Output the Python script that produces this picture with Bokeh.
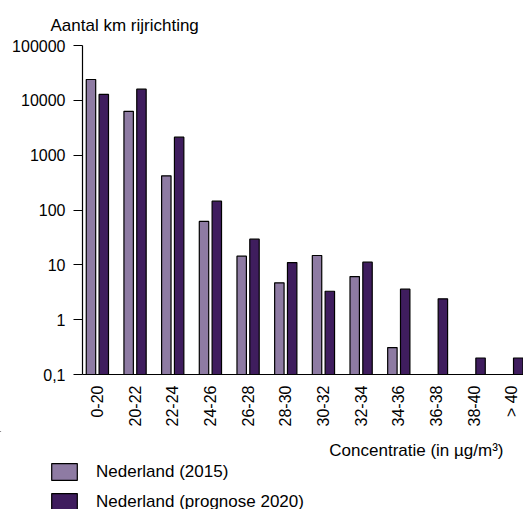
import numpy as np
from bokeh.plotting import figure
from bokeh.layouts import column
from bokeh.models import (FixedTicker, Range1d, Legend, LegendItem, Title,
                          Label, ColumnDataSource)
from bokeh.embed import file_html
from bokeh.resources import INLINE

categories = ["0-20", "20-22", "22-24", "24-26", "26-28", "28-30",
              "30-32", "32-34", "34-36", "36-38", "38-40", "> 40"]
nl_2015 = [24000, 6300, 420, 62, 14.4, 4.7, 14.8, 6.1, 0.31, 0.1, 0.1, 0.1]
nl_2020 = [12800, 16000, 2130, 145, 29.4, 11.0, 3.3, 11.2, 3.6, 2.4, 0.2, 0.2]
y_ticks = [0.1, 1, 10, 100, 1000, 10000, 100000]
y_tick_labels = ["0,1", "1", "10", "100", "1000", "10000", "100000"]
series_names = ["Nederland (2015)", "Nederland (prognose 2020)"]
colors = ["#8E7BA3", "#3F1D5E"]
y_title = "Aantal km rijrichting"
x_title = "Concentratie (in µg/m³)"

FONT = "Liberation Sans"
idx = np.arange(len(categories))
src = ColumnDataSource(dict(x1=idx - 0.17, x2=idx + 0.17,
                            a=nl_2015, b=nl_2020,
                            base=[y_ticks[0]] * len(categories)))

p = figure(width=523, height=431, output_backend="svg", toolbar_location=None,
           y_axis_type="log",
           x_range=Range1d(-0.395, 11.31),
           y_range=Range1d(y_ticks[0], y_ticks[-1]),
           min_border_left=82, min_border_right=0, min_border_top=45,
           min_border_bottom=57)
p.frame_align = False
p.outline_line_color = None
p.xgrid.grid_line_color = None
p.ygrid.grid_line_color = None
p.background_fill_color = None
p.border_fill_color = "white"

r1 = p.vbar(x="x1", top="a", bottom="base", width=0.25, source=src,
            fill_color=colors[0], line_color="black", line_width=1.2)
r2 = p.vbar(x="x2", top="b", bottom="base", width=0.25, source=src,
            fill_color=colors[1], line_color="black", line_width=1.2)

# y axis
ya = p.yaxis[0]
ya.ticker = FixedTicker(ticks=y_ticks, minor_ticks=[])
ya.major_label_overrides = {t: l for t, l in zip(y_ticks, y_tick_labels)}
ya.major_tick_out = 9
ya.major_tick_in = 0
ya.minor_tick_out = 0
ya.minor_tick_in = 0
ya.major_label_standoff = 8
ya.major_label_text_font = FONT
ya.major_label_text_font_size = "16px"
ya.major_label_text_color = "black"
ya.axis_line_color = "black"
ya.axis_line_width = 1.2
ya.major_tick_line_color = "black"

# x axis
xa = p.xaxis[0]
xa.ticker = FixedTicker(ticks=list(idx), minor_ticks=[])
xa.major_label_overrides = {int(i): c for i, c in zip(idx, categories)}
xa.major_label_orientation = np.pi / 2
xa.major_tick_out = 0
xa.major_tick_in = 0
xa.minor_tick_out = 0
xa.minor_tick_in = 0
xa.major_label_standoff = 11
xa.major_label_text_font = FONT
xa.major_label_text_font_size = "16px"
xa.major_label_text_color = "black"
xa.axis_line_color = "black"
xa.axis_line_width = 1.2

# y title above the plot
t_top = Title(text=y_title, align="left", offset=-32,
              text_font=FONT, text_font_size="17px", text_font_style="normal",
              text_color="black", standoff=21)
p.add_layout(t_top, "above")

# strip below the chart: x title and legend (pixel-like ranges, y downwards)
lg = figure(width=523, height=78, output_backend="svg", toolbar_location=None,
            x_axis_location=None, y_axis_location=None,
            x_range=Range1d(0, 523), y_range=Range1d(78, 0),
            min_border_left=0, min_border_right=0, min_border_top=0,
            min_border_bottom=0)
lg.frame_align = False
lg.outline_line_color = None
lg.xgrid.grid_line_color = None
lg.ygrid.grid_line_color = None

lg.add_layout(Label(x=503, y=19, text=x_title, text_align="right",
                    text_baseline="middle", text_font=FONT,
                    text_font_size="17px", text_color="black"))

hidden = ColumnDataSource(dict(x=[-10000.0], top=[-10000.0],
                               bottom=[-10001.0]))
l1 = lg.vbar(x="x", top="top", bottom="bottom", width=1, source=hidden,
             fill_color=colors[0], line_color="black", line_width=1.2)
l2 = lg.vbar(x="x", top="top", bottom="bottom", width=1, source=hidden,
             fill_color=colors[1], line_color="black", line_width=1.2)
legend = Legend(items=[LegendItem(label=series_names[0], renderers=[l1]),
                       LegendItem(label=series_names[1], renderers=[l2])],
                location=(48, -3), orientation="vertical",
                glyph_width=32, glyph_height=21, label_standoff=16, spacing=9,
                padding=0, margin=0, border_line_alpha=0,
                background_fill_alpha=0,
                label_text_font=FONT, label_text_font_size="17px",
                label_text_color="black")
lg.add_layout(legend, "center")

open("out.html", "w").write(file_html(column(p, lg), INLINE))
